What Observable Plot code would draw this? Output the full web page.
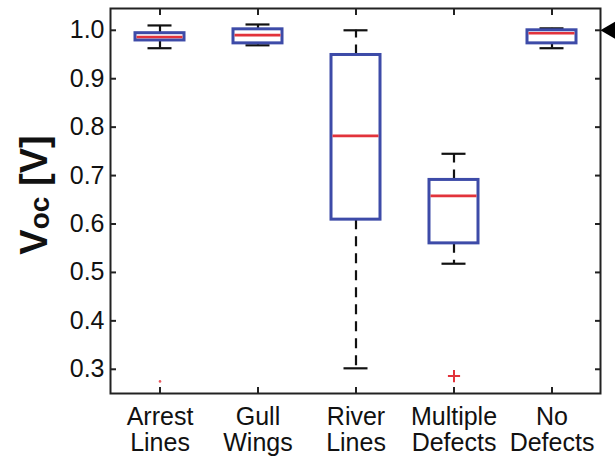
<!DOCTYPE html>
<html>
<head>
<meta charset="utf-8">
<script src="https://cdn.jsdelivr.net/npm/d3@7"></script>
<script src="https://cdn.jsdelivr.net/npm/@observablehq/plot@0.6"></script>
<style>
  html, body { margin: 0; padding: 0; background: #fff; }
  #chart svg { display: block; }
</style>
</head>
<body>
<div id="chart"></div>
<script>
const categories = ["Arrest Lines", "Gull Wings", "River Lines", "Multiple Defects", "No Defects"];
const q1Values = [0.979, 0.973, 0.609, 0.560, 0.973];
const medianValues = [0.986, 0.990, 0.782, 0.658, 0.994];
const q3Values = [0.994, 1.002, 0.949, 0.691, 1.000];
const whiskerLow = [0.963, 0.969, 0.302, 0.518, 0.963];
const whiskerHigh = [1.010, 1.012, 1.000, 0.745, 1.004];
const outlierCats = ["Arrest Lines", "Multiple Defects"];
const outlierValues = [0.275, 0.286];
const yTicks = [0.3, 0.4, 0.5, 0.6, 0.7, 0.8, 0.9, 1.0];
const markerValue = [1.0];

const boxes = categories.map((c, i) => ({
  cat: c, q1: q1Values[i], med: medianValues[i], q3: q3Values[i],
  lo: whiskerLow[i], hi: whiskerHigh[i]
}));
const outliers = outlierCats.map((c, i) => ({cat: c, v: outlierValues[i]}));

const blue = "#3d4ba8";
const red = "#e2333b";
const font = "'Liberation Sans', Arial, sans-serif";

const plot = Plot.plot({
  width: 615,
  height: 469,
  marginLeft: 110,
  marginRight: 15,
  marginTop: 8,
  marginBottom: 76,
  style: {fontFamily: font, fontSize: "25px", color: "#111", background: "#fff"},
  x: {type: "band", domain: categories, paddingInner: 0.5, paddingOuter: 0.25, label: null},
  y: {domain: [0.25, 1.045], label: null},
  marks: [
    // whiskers
    Plot.ruleX(boxes, {x: "cat", y1: "q3", y2: "hi", stroke: "#111", strokeWidth: 2.2, strokeDasharray: "10,7"}),
    Plot.ruleX(boxes, {x: "cat", y1: "q1", y2: "lo", stroke: "#111", strokeWidth: 2.2, strokeDasharray: "10,7"}),
    // caps
    Plot.tickY(boxes, {x: "cat", y: "hi", stroke: "#111", strokeWidth: 2.2, insetLeft: 12.5, insetRight: 12.5}),
    Plot.tickY(boxes, {x: "cat", y: "lo", stroke: "#111", strokeWidth: 2.2, insetLeft: 12.5, insetRight: 12.5}),
    // boxes
    Plot.rectY(boxes, {x: "cat", y1: "q1", y2: "q3", fill: "white", stroke: blue, strokeWidth: 3}),
    // medians
    Plot.tickY(boxes, {x: "cat", y: "med", stroke: red, strokeWidth: 2.6, insetLeft: 1.5, insetRight: 1.5}),
    // outliers
    Plot.dot(outliers.filter(d => d.cat !== "Arrest Lines"), {x: "cat", y: "v", symbol: "plus", r: 4, stroke: red, strokeWidth: 2}),
    Plot.dot(outliers.filter(d => d.cat === "Arrest Lines"), {x: "cat", y: "v", r: 1.3, fill: red, stroke: "none", fillOpacity: 0.8}),
    // frame
    Plot.frame({stroke: "#222", strokeWidth: 2}),
    // axes labels
    Plot.axisY({ticks: yTicks, tickSize: 0, tickPadding: 6, tickFormat: d3.format(".1f"), fontSize: 25, fill: "#111"}),
    Plot.axisX({anchor: "bottom", tickSize: 0, tickPadding: 13, tickFormat: d => d.replace(" ", "\n"), lineHeight: 1.04, fontSize: 25, fill: "#111"}),
    // inward ticks
    Plot.axisY({ticks: yTicks, anchor: "left", tickSize: 6, dx: 6, text: null, stroke: "#222", strokeWidth: 2}),
    Plot.axisY({ticks: yTicks, anchor: "right", tickSize: 6, dx: -6, text: null, stroke: "#222", strokeWidth: 2}),
    Plot.axisX({anchor: "bottom", tickSize: 6, dy: -6, text: null, stroke: "#222", strokeWidth: 2}),
    Plot.axisX({anchor: "top", tickSize: 6, dy: 6, text: null, stroke: "#222", strokeWidth: 2}),
    // right-side marker arrow
    Plot.dot(markerValue, {y: d => d, frameAnchor: "right", dx: 10, symbol: "triangle", rotate: -90, r: 6.5, fill: "#000", stroke: "none"})
  ]
});

// y-axis title with subscript
const svg = d3.select(plot);
svg.attr("overflow", "visible");
const t = svg.append("text")
  .attr("transform", "translate(47,195) rotate(-90)")
  .attr("text-anchor", "middle")
  .attr("font-family", font)
  .attr("font-weight", "bold")
  .attr("font-size", 38)
  .attr("fill", "#111");
t.append("tspan").text("V");
t.append("tspan").attr("font-size", 28).attr("dy", 2).text("oc");
t.append("tspan").attr("dy", -2).text(" [V]");

document.getElementById("chart").appendChild(plot);
</script>
</body>
</html>
